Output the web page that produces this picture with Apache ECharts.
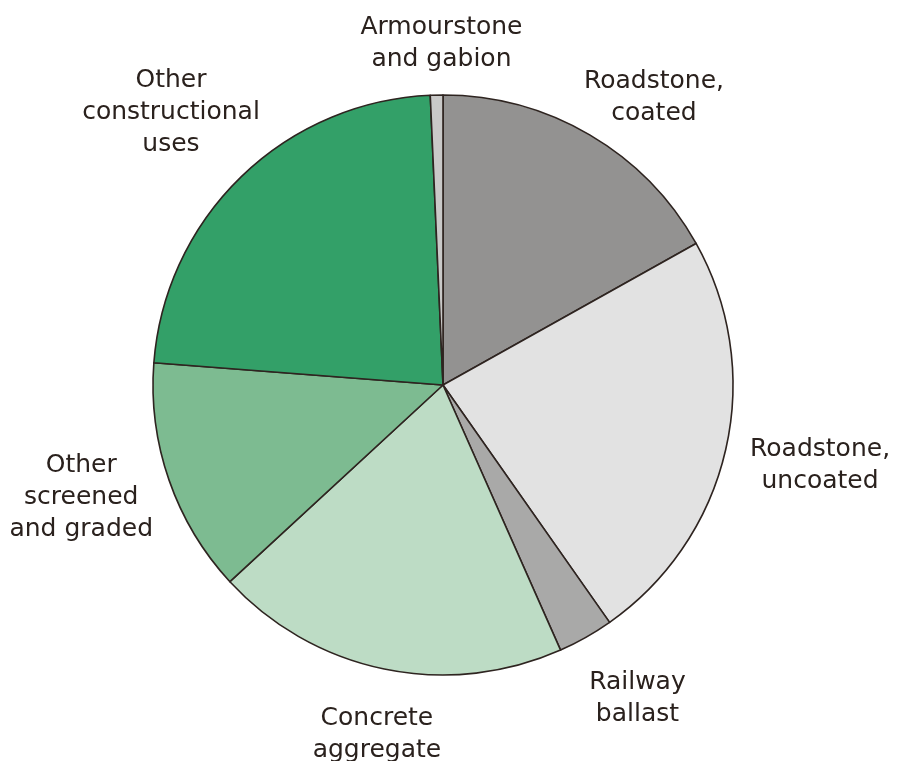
<!DOCTYPE html>
<html>
<head>
<meta charset="utf-8">
<script src="https://cdn.jsdelivr.net/npm/echarts@6/dist/echarts.min.js"></script>
<style>
  html, body { margin: 0; padding: 0; background: #ffffff; }
  #chart { width: 901px; height: 761px; }
</style>
</head>
<body>
<div id="chart"></div>
<script>
// Uses of crushed rock, share of total (%), clockwise from 12 o'clock
const categories = [
  'Roadstone,\ncoated',
  'Roadstone,\nuncoated',
  'Railway\nballast',
  'Concrete\naggregate',
  'Other\nscreened\nand graded',
  'Other\nconstructional\nuses',
  'Armourstone\nand gabion'
];
const shares = [16.9, 23.4, 3.1, 19.8, 13.1, 23.1, 0.7];

// Slice fills; label placement as [distance from centre px, turn from slice mid-angle deg]
const sliceColors = ['#939291', '#e2e2e2', '#a9a9a8', '#bddcc5', '#7dbb91', '#33a068', '#c9c9c8'];
const labelPlacement = [[359, 5.6], [385, -1.2], [367, -2.5], [353, -0.9], [378, 2.3], [387, -0.6], [344, 1.0]];

const CX = 443, CY = 385, R = 290;
const LABEL_SHIFT_Y = 2.5;

// Mid-angle of each slice (radians, clockwise from top), derived from the shares
const total = shares.reduce((a, b) => a + b, 0);
const midAngles = [];
let acc = 0;
shares.forEach(v => {
  midAngles.push(((acc + v / 2) / total) * 2 * Math.PI);
  acc += v;
});

const chart = echarts.init(document.getElementById('chart'), null, { renderer: 'canvas' });

chart.setOption({
  animation: false,
  backgroundColor: '#ffffff',
  series: [{
    type: 'pie',
    center: [CX, CY],
    radius: R,
    startAngle: 90,
    clockwise: true,
    silent: true,
    data: categories.map((name, i) => ({
      name: name,
      value: shares[i],
      itemStyle: { color: sliceColors[i] }
    })),
    itemStyle: { borderColor: '#2e2420', borderWidth: 1.6 },
    label: {
      show: true,
      position: 'outside',
      formatter: '{b}',
      color: '#2a211d',
      fontFamily: 'DejaVu Sans',
      fontSize: 25,
      lineHeight: 32,
      align: 'center',
      overflow: 'none',
      width: 300
    },
    labelLine: { show: false },
    labelLayout: function (p) {
      const pl = labelPlacement[p.dataIndex];
      const a = midAngles[p.dataIndex] + pl[1] * Math.PI / 180;
      return {
        x: CX + pl[0] * Math.sin(a),
        y: CY - pl[0] * Math.cos(a) + LABEL_SHIFT_Y,
        align: 'center',
        verticalAlign: 'middle'
      };
    }
  }]
});
</script>
</body>
</html>
